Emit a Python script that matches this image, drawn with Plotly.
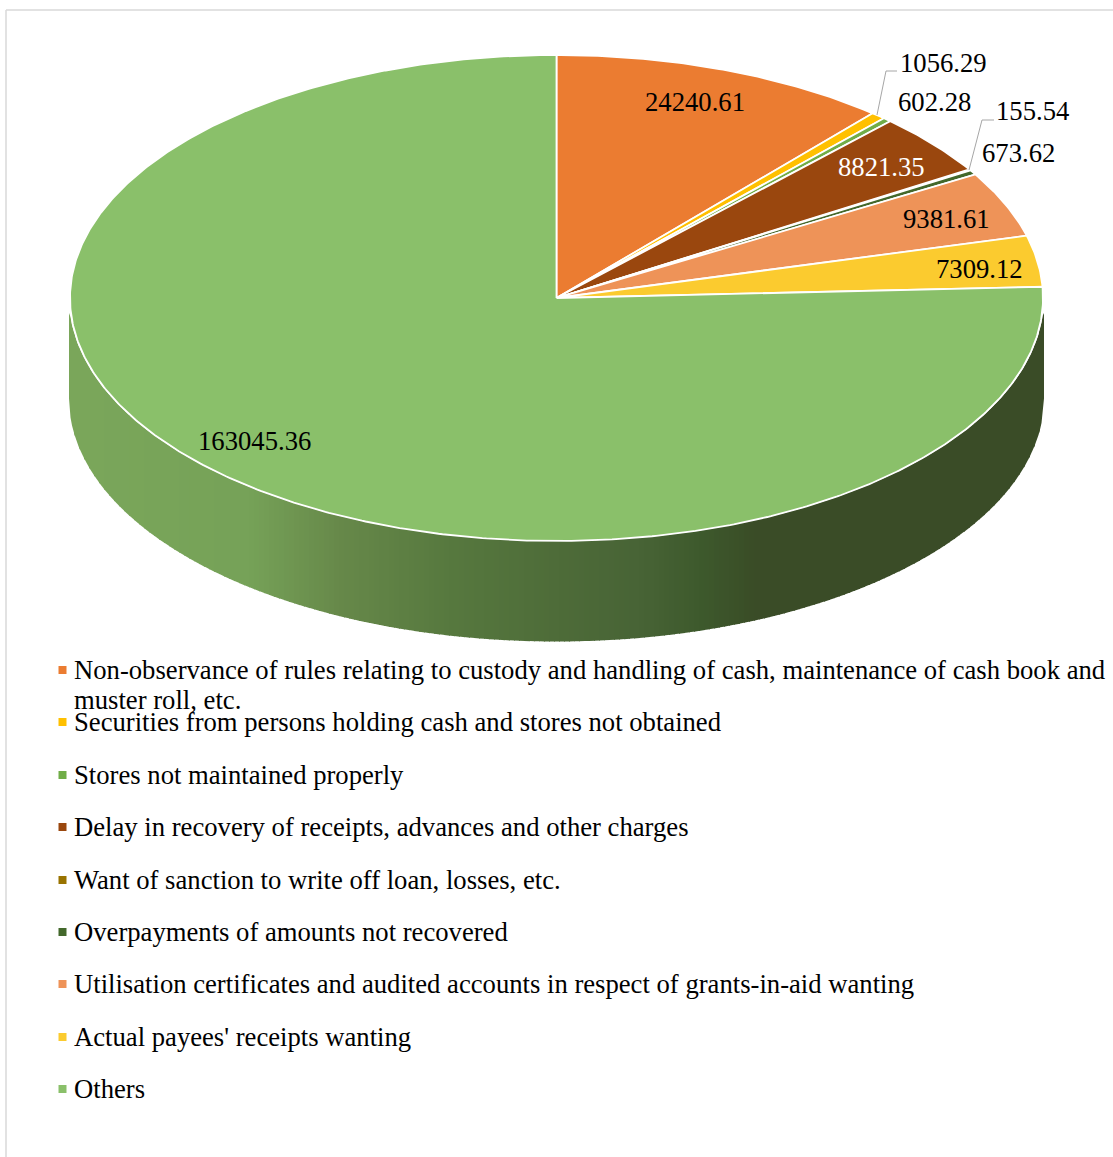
import numpy as np
import plotly.graph_objects as go

categories = [
    "Non-observance of rules relating to custody and handling of cash, maintenance of cash book and muster roll, etc.",
    "Securities from persons holding cash and stores not obtained",
    "Stores not maintained properly",
    "Delay in recovery of receipts, advances and other charges",
    "Want of sanction to write off loan, losses, etc.",
    "Overpayments of amounts not recovered",
    "Utilisation certificates and audited accounts in respect of grants-in-aid wanting",
    "Actual payees' receipts wanting",
    "Others",
]
values = [24240.61, 1056.29, 602.28, 8821.35, 155.54, 673.62, 9381.61, 7309.12, 163045.36]
colors = ["#EB7C31", "#FFC000", "#70AD47", "#9A470E", "#997300", "#43682B", "#EE9358", "#FBCB2F", "#8AC06A"]

# label centres in page pixels
label_xy = [(694.5, 102), (943, 63), (934, 102), (881, 167), (1032.5, 111), (1018, 153), (946.5, 219), (979, 269), (254.5, 441)]
label_color = ["#000000", "#000000", "#000000", "#FFFFFF", "#000000", "#000000", "#000000", "#000000", "#000000"]
leaders = {1: [(877, 115), (886, 71), (897, 71)], 4: [(969, 170), (982, 120), (994, 120)]}

CX, CY, RX, RY, DEPTH = 556.5, 298.0, 486.5, 243.0, 100.5
SIDE_RX = 487.5
SIDE_TOP_MIN = 313
SIDE_STEP = 5
FONT = "Liberation Serif"
FS = 26.67
LEG_X = 71.5
LEG_Y = [670, 722, 775, 827, 880, 932, 984, 1037, 1089]
LEG_WRAP_AT = "maintenance of cash book and"
side_stops = [(70, "#7BA75B"), (250, "#76A258"), (340, "#67894A"), (450, "#57793F"), (560, "#4E6C39"),
              (640, "#486436"), (700, "#3E5A2D"), (755, "#3A4D27"), (1044, "#3A4C27")]


def hex2rgb(h):
    return np.array([int(h[i:i + 2], 16) for i in (1, 3, 5)], float)


def side_color(x):
    xs = [s[0] for s in side_stops]
    rgb = np.array([hex2rgb(s[1]) for s in side_stops])
    return "rgb(%d,%d,%d)" % tuple(np.interp(x, xs, rgb[:, i]) for i in range(3))


fig = go.Figure()

# side wall, as narrow vertical bands on whole pixels; each overlaps the next so no seam shows
x_lo, x_hi = int(CX - SIDE_RX), int(np.ceil(CX + SIDE_RX))
for a in range(x_lo, x_hi, SIDE_STEP):
    b = min(a + SIDE_STEP + 1, x_hi)
    xx = np.linspace(a, b, 5)
    top = CY + RY * np.sqrt(np.clip(1 - ((xx - CX) / SIDE_RX) ** 2, 0, 1))
    c = side_color((a + b) / 2)
    fig.add_trace(go.Scatter(
        x=np.r_[xx, xx[::-1]], y=np.r_[np.maximum(top, SIDE_TOP_MIN), (top + DEPTH)[::-1]],
        mode="lines", fill="toself", fillcolor=c, line=dict(width=0),
        hoverinfo="skip", showlegend=False))

# top face slices, angles taken from the values
total = sum(values)
start = 0.0
for name, v, c in zip(categories, values, colors):
    sweep = 2 * np.pi * v / total
    th = np.linspace(start, start + sweep, max(3, int(sweep * 120)))
    fig.add_trace(go.Scatter(
        x=np.r_[CX, CX + RX * np.sin(th), CX], y=np.r_[CY, CY - RY * np.cos(th), CY],
        mode="lines", fill="toself", fillcolor=c, line=dict(color="#FFFFFF", width=1.8),
        name=name, text=f"{name}: {v}", hoverinfo="text", showlegend=False))
    start += sweep

# leader lines
for pts in leaders.values():
    fig.add_trace(go.Scatter(x=[p[0] for p in pts], y=[p[1] for p in pts], mode="lines",
                             line=dict(color="#A6A6A6", width=1), hoverinfo="skip", showlegend=False))

# legend swatches
fig.add_trace(go.Scatter(x=[62.5] * len(LEG_Y), y=LEG_Y, mode="markers",
                         marker=dict(symbol="square", size=8, color=colors, line=dict(width=0)),
                         hoverinfo="skip", showlegend=False))

ann = []
for v, (x, y), c in zip(values, label_xy, label_color):
    ann.append(dict(x=x, y=y, text=f"{v:.2f}", showarrow=False, xanchor="center", yanchor="middle",
                    font=dict(family=FONT, size=FS, color=c)))
for i, (name, y) in enumerate(zip(categories, LEG_Y)):
    if i == 0:
        first, rest = name.split(LEG_WRAP_AT)
        ann.append(dict(x=LEG_X, y=y, text=first + LEG_WRAP_AT, showarrow=False, xanchor="left", yanchor="middle",
                        font=dict(family=FONT, size=FS, color="#000000")))
        ann.append(dict(x=LEG_X, y=y + 30, text=rest.strip(), showarrow=False, xanchor="left", yanchor="middle",
                        font=dict(family=FONT, size=FS, color="#000000")))
    else:
        ann.append(dict(x=LEG_X, y=y, text=name, showarrow=False, xanchor="left", yanchor="middle",
                        font=dict(family=FONT, size=FS, color="#000000")))

fig.update_layout(
    width=1113, height=1157, autosize=False, margin=dict(l=0, r=0, t=0, b=0),
    paper_bgcolor="#FFFFFF", plot_bgcolor="#FFFFFF", annotations=ann, showlegend=False,
    xaxis=dict(range=[0, 1113], visible=False, fixedrange=True),
    yaxis=dict(range=[1157, 0], visible=False, fixedrange=True),
    shapes=[
        dict(type="line", x0=6, x1=6, y0=10, y1=1157, line=dict(color="#D9D9D9", width=1.5)),
        dict(type="line", x0=6, x1=1113, y0=10, y1=10, line=dict(color="#D9D9D9", width=1.5)),
    ],
)
fig.write_html("out.html", config=dict(displayModeBar=False),
               post_script="document.body.style.margin='0';document.documentElement.style.overflow='hidden';")
